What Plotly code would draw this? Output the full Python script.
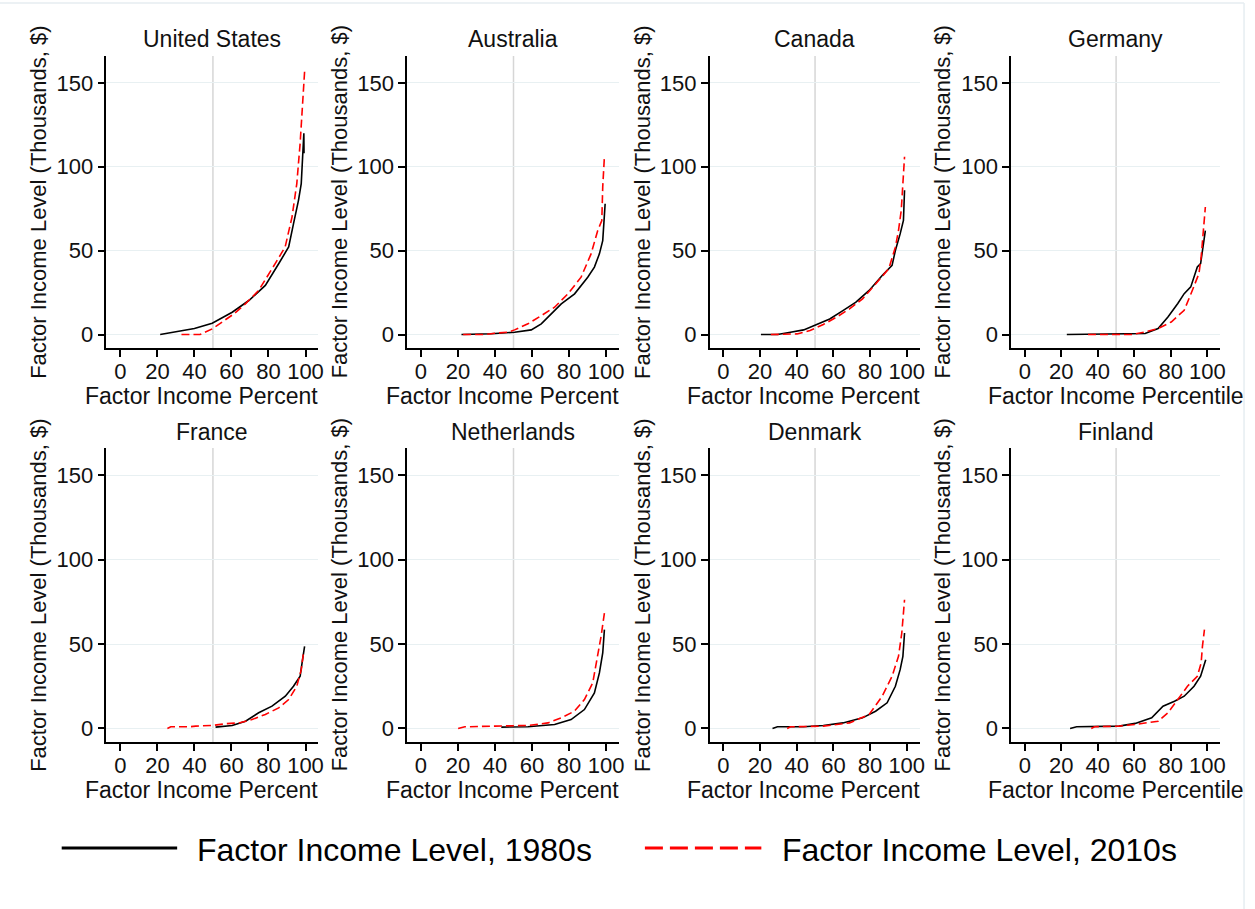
import plotly.graph_objects as go

# ---- data: factor income level (thousands, $) by factor income percentile ----
countries = ["United States", "Australia", "Canada", "Germany",
             "France", "Netherlands", "Denmark", "Finland"]

us_p80 = [21.5, 31.7, 40, 49.6, 60.4, 69.4, 78.3, 85.5, 90.9, 93.5, 96.2, 97.7, 98.4, 99.1, 99.2]
us_v80 = [0, 1.8, 3.6, 6.8, 13.3, 20.3, 29.3, 42.2, 52.2, 66, 80, 90, 106, 120, 108]
us_p10 = [33, 43, 49.6, 55, 61.3, 67.5, 74.7, 83.7, 89, 92.7, 95.3, 97.1, 98.4, 99.5]
us_v10 = [0, 0, 3.4, 7.4, 12.3, 18.3, 26.3, 42.4, 52.2, 70, 90, 114, 140, 156.7]

au_p80 = [21.9, 38, 50.6, 59.6, 65, 68.6, 75.8, 83, 90.1, 93.7, 96.4, 98.2, 98.7, 99.5]
au_v80 = [0, 0.5, 1.4, 2.8, 6.4, 10.3, 18.3, 24.3, 34.2, 40.2, 48.1, 56, 68, 78]
au_p10 = [22.8, 34.5, 39.9, 47, 50.6, 57.8, 65, 72.2, 79.4, 86.5, 91.9, 95.5, 97.7, 98.2, 99.1]
au_v10 = [0, 0, 0.8, 1.4, 2.8, 6.4, 11.3, 16.3, 24.3, 34.2, 48.1, 62, 68, 88, 106]

ca_p80 = [20.5, 29.5, 36.6, 43.8, 50.9, 58, 65.2, 72.3, 79.5, 86.6, 92, 93.8, 96.4, 98.2, 98.8]
ca_v80 = [0, 0, 1.4, 2.8, 6, 9.3, 14.3, 19.3, 26.3, 35.2, 41.2, 50.1, 60, 68, 86]
ca_p10 = [25.9, 33.9, 40.2, 47.3, 54.5, 61.6, 68.8, 75.9, 83, 90.2, 93.8, 95.5, 97, 97.9, 98.8]
ca_v10 = [0, 0, 0.4, 2.4, 6, 10.3, 15.3, 21.3, 30.2, 39.2, 52.1, 62, 74, 94, 106]

de_p80 = [23, 58.8, 65.9, 73, 78.4, 83.8, 87.3, 90.9, 94.5, 96.3, 97.7, 98.9]
de_v80 = [0, 0.3, 0.6, 3.6, 10.5, 18.5, 24.4, 28.4, 40.3, 42.3, 52, 62]
de_p10 = [34.6, 58.8, 65.9, 73, 80.2, 87.3, 91.8, 95.4, 96.6, 97.7, 98.9]
de_v10 = [0, 0, 1.6, 3.6, 7.5, 14.5, 26.4, 36.4, 46.3, 60.2, 76]

fr_p80 = [51.4, 60.4, 67.6, 74.7, 81.9, 89.1, 93.5, 97.1, 98.4, 99.5]
fr_v80 = [0.8, 1.8, 4.3, 9.3, 13.2, 19.1, 25, 30.9, 40.7, 48.6]
fr_p10 = [25.4, 27.2, 37.1, 40.7, 49.6, 56.8, 64, 71.1, 78.3, 85.5, 90.9, 95.3, 97.7, 98.9]
fr_v10 = [0, 1, 1, 1.4, 1.8, 2.8, 3.3, 5.3, 8.3, 12.2, 17.1, 25, 34.8, 44.7]

nl_p80 = [43.4, 57.8, 72.2, 81.1, 88.3, 93.7, 96.4, 98.2, 99.1]
nl_v80 = [0.8, 1, 2.4, 5.3, 11.2, 21, 32.9, 44.7, 58.5]
nl_p10 = [20.1, 23.7, 39.9, 57.8, 68.6, 75.8, 82.9, 88.3, 92.8, 95.2, 97.3, 99.1]
nl_v10 = [0, 1, 1.4, 1.8, 3.3, 6.3, 10.2, 17.1, 27, 40.7, 54.5, 68.3]

dk_p80 = [26.8, 29.5, 43.8, 54.5, 65.2, 75.9, 83, 89.3, 93.8, 96.4, 97.9, 98.8]
dk_v80 = [0, 1, 1, 1.8, 3.3, 6.3, 10.2, 15.2, 25, 34.8, 42.7, 56.5]
dk_p10 = [34.8, 36.6, 54.5, 68.8, 79.5, 86.6, 92, 95.5, 97.3, 98.8]
dk_v10 = [0, 1, 1.4, 3.3, 8.3, 19.1, 30.9, 42.7, 56.5, 76.2]

fi_p80 = [24.8, 28.4, 51.6, 60.5, 69.5, 75.7, 82, 87.3, 92.7, 96.3, 98, 99.1]
fi_v80 = [0, 1, 1.4, 3, 6.3, 13.2, 16.1, 19.1, 25, 30.9, 36.8, 40.7]
fi_p10 = [36.4, 38.2, 51.6, 60.5, 73, 78.4, 83.8, 89.1, 94.5, 96.6, 97.3, 98.4]
fi_v10 = [0, 1, 1.4, 2.4, 4.3, 9.3, 17.1, 25, 30.9, 38.8, 48.6, 58.5]

series_1980s = [(us_p80, us_v80), (au_p80, au_v80), (ca_p80, ca_v80), (de_p80, de_v80),
                (fr_p80, fr_v80), (nl_p80, nl_v80), (dk_p80, dk_v80), (fi_p80, fi_v80)]
series_2010s = [(us_p10, us_v10), (au_p10, au_v10), (ca_p10, ca_v10), (de_p10, de_v10),
                (fr_p10, fr_v10), (nl_p10, nl_v10), (dk_p10, dk_v10), (fi_p10, fi_v10)]

x_ticks = [0, 20, 40, 60, 80, 100]
y_ticks = [0, 50, 100, 150]
label_1980s = "Factor Income Level, 1980s"
label_2010s = "Factor Income Level, 2010s"
y_title = "Factor Income Level (Thousands, $)"
x_title_short = "Factor Income Percent"
x_title_full = "Factor Income Percentile"

# ---- page geometry (pixels) ----
W, H = 1255, 909
FONT = "Liberation Sans, Arial, sans-serif"
TXT = "#111111"
col_left = [107, 409, 713, 1016]
col_width = [213, 213, 211, 210]
row_span = [(56, 348), (448, 742)]
title_y = [39, 432]
xtitle_y = [396, 790]
ytitle_x = [38, 341, 645, 947]


def px(x):
    return x / W


def py(y):
    return 1 - y / H


fig = go.Figure()
annotations = []
shapes = []

for i, name in enumerate(countries):
    r, c = divmod(i, 4)
    n = i + 1
    xa = "xaxis" if n == 1 else f"xaxis{n}"
    ya = "yaxis" if n == 1 else f"yaxis{n}"
    xr = "x" if n == 1 else f"x{n}"
    yr = "y" if n == 1 else f"y{n}"
    x0, x1 = col_left[c], col_left[c] + col_width[c]
    top, bot = row_span[r]

    fig.update_layout(**{
        xa: dict(domain=[px(x0), px(x1)], anchor=yr, range=[-7.5, 107],
                 tickvals=x_ticks, showgrid=False, zeroline=False,
                 showline=True, linecolor="black", linewidth=1.5,
                 ticks="outside", ticklen=7, tickwidth=1.5, tickcolor="black",
                 ticklabelstandoff=-4,
                 tickfont=dict(family=FONT, size=22, color=TXT),
                 fixedrange=True),
        ya: dict(domain=[py(bot), py(top)], anchor=xr, range=[-8, 166],
                 tickvals=y_ticks, showgrid=True, gridcolor="#e8f0f2", gridwidth=1,
                 zeroline=False, showline=True, linecolor="black", linewidth=1.5,
                 ticks="outside", ticklen=7, tickwidth=1.5, tickcolor="black",
                 tickfont=dict(family=FONT, size=22, color=TXT),
                 fixedrange=True),
    })

    # median reference line at the 50th percentile
    shapes.append(dict(type="line", xref=xr, yref=f"{yr} domain", x0=50, x1=50,
                       y0=0, y1=1, line=dict(color="#d6d6d6", width=1.5), layer="below"))

    p80, v80 = series_1980s[i]
    p10, v10 = series_2010s[i]
    fig.add_trace(go.Scatter(x=p80, y=v80, xaxis=xr, yaxis=yr, mode="lines",
                             name=label_1980s, showlegend=False,
                             line=dict(color="black", width=1.6)))
    fig.add_trace(go.Scatter(x=p10, y=v10, xaxis=xr, yaxis=yr, mode="lines",
                             name=label_2010s, showlegend=False,
                             line=dict(color="red", width=1.6, dash="8px,4px")))

    cx = (x0 + x1) / 2
    annotations.append(dict(text=name, x=px(cx), y=py(title_y[r]), xref="paper", yref="paper",
                            xanchor="center", yanchor="middle", showarrow=False,
                            font=dict(family=FONT, size=23, color=TXT)))
    annotations.append(dict(text=y_title, x=px(ytitle_x[c]), y=py((top + bot) / 2),
                            xref="paper", yref="paper", textangle=-90,
                            xanchor="center", yanchor="middle", showarrow=False,
                            font=dict(family=FONT, size=22, color=TXT)))
    if c < 3:
        annotations.append(dict(text=x_title_short, x=px(cx - 130), y=py(xtitle_y[r]),
                                xref="paper", yref="paper", xanchor="left", yanchor="middle",
                                showarrow=False, font=dict(family=FONT, size=23, color=TXT)))
    else:
        annotations.append(dict(text=x_title_full, x=px(cx - 130), y=py(xtitle_y[r]),
                                xref="paper", yref="paper", xanchor="left", yanchor="middle",
                                showarrow=False, font=dict(family=FONT, size=23, color=TXT)))

# legend keys and labels
legend_y = 848
shapes.append(dict(type="line", xref="paper", yref="paper", x0=px(62), x1=px(178),
                   y0=py(legend_y), y1=py(legend_y), line=dict(color="black", width=3)))
shapes.append(dict(type="line", xref="paper", yref="paper", x0=px(648), x1=px(765),
                   y0=py(legend_y), y1=py(legend_y), line=dict(color="red", width=3, dash="18px,7px")))
annotations.append(dict(text=label_1980s, x=px(196), y=py(legend_y + 2), xref="paper", yref="paper",
                        xanchor="left", yanchor="middle", showarrow=False,
                        font=dict(family=FONT, size=32, color="black")))
annotations.append(dict(text=label_2010s, x=px(784), y=py(legend_y + 2), xref="paper", yref="paper",
                        xanchor="left", yanchor="middle", showarrow=False,
                        font=dict(family=FONT, size=32, color="black")))

# faint outer frame
shapes.append(dict(type="line", xref="paper", yref="paper", x0=0, x1=px(1250),
                   y0=py(3), y1=py(3), line=dict(color="#e6edf1", width=1.5)))
shapes.append(dict(type="line", xref="paper", yref="paper", x0=px(1250), x1=px(1250),
                   y0=py(3), y1=0, line=dict(color="#e6edf1", width=1.5)))

fig.update_layout(width=W, height=H, margin=dict(l=0, r=0, t=0, b=0),
                  paper_bgcolor="white", plot_bgcolor="white", showlegend=False,
                  annotations=annotations, shapes=shapes)

fig.write_html("out.html", config={"displayModeBar": False})
